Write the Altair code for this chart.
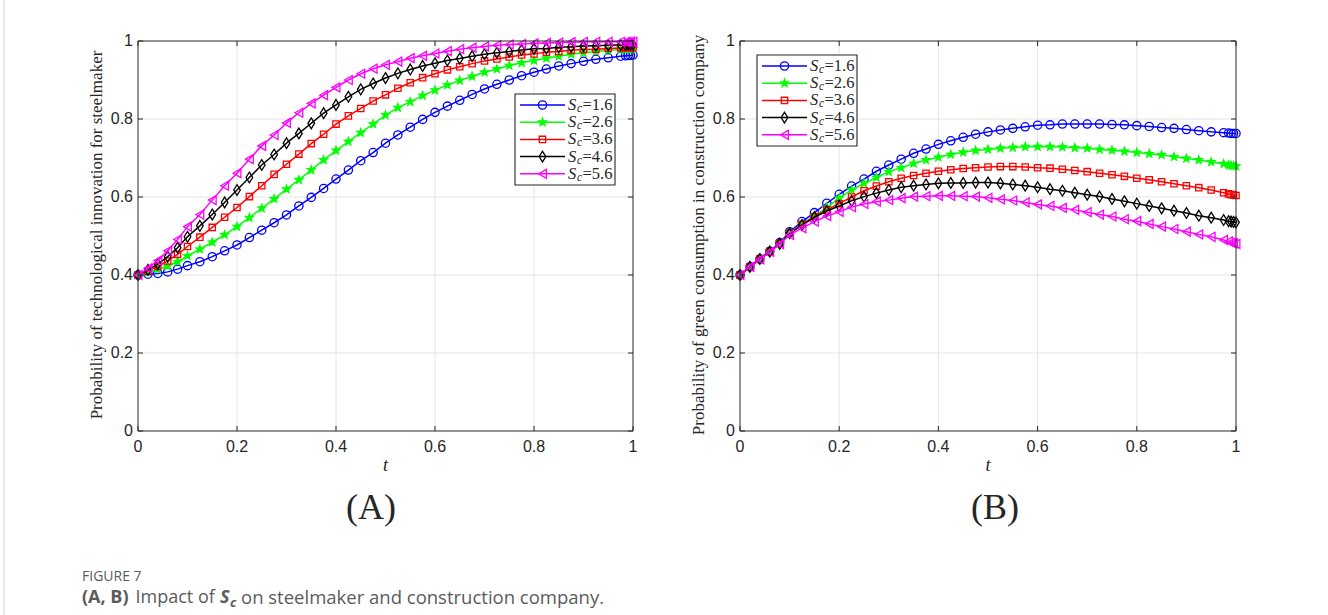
import math
import altair as alt
import pandas as pd

# ---------------- data ----------------
T = [0, 0.02, 0.04, 0.06, 0.08,
     0.1, 0.125, 0.15, 0.175, 0.2, 0.225, 0.25, 0.275, 0.3,
     0.325, 0.35, 0.375, 0.4, 0.425, 0.45, 0.475, 0.5,
     0.525, 0.55, 0.575, 0.6, 0.625, 0.65, 0.675, 0.7,
     0.725, 0.75, 0.775, 0.8, 0.825, 0.85, 0.875, 0.9,
     0.925, 0.95, 0.975, 0.985, 0.99, 0.995, 1.0]

SERIES_NAMES = ["1.6", "2.6", "3.6", "4.6", "5.6"]

# Panel (A): probability of technological innovation for steelmaker
A_16 = [0.400, 0.402, 0.404, 0.408, 0.415, 0.424, 0.434, 0.447, 0.462, 0.477, 0.496, 0.515, 0.534, 0.554,
        0.577, 0.599, 0.622, 0.646, 0.669, 0.693, 0.714, 0.738, 0.759, 0.779, 0.799, 0.817, 0.833, 0.848,
        0.863, 0.877, 0.889, 0.900, 0.911, 0.920, 0.928, 0.936, 0.942, 0.948, 0.953, 0.957, 0.961,
        0.962, 0.963, 0.963, 0.964]
A_26 = [0.400, 0.406, 0.414, 0.423, 0.434, 0.449, 0.466, 0.484, 0.503, 0.524, 0.547, 0.571, 0.595, 0.620,
        0.644, 0.669, 0.695, 0.719, 0.742, 0.765, 0.787, 0.810, 0.829, 0.844, 0.860, 0.874, 0.887, 0.899,
        0.909, 0.920, 0.928, 0.937, 0.944, 0.950, 0.956, 0.961, 0.966, 0.970, 0.973, 0.976, 0.978,
        0.979, 0.979, 0.979, 0.980]
A_36 = [0.400, 0.410, 0.422, 0.436, 0.453, 0.473, 0.497, 0.522, 0.548, 0.573, 0.601, 0.629, 0.658, 0.684,
        0.710, 0.737, 0.761, 0.787, 0.808, 0.827, 0.846, 0.862, 0.879, 0.893, 0.906, 0.916, 0.926, 0.934,
        0.942, 0.949, 0.954, 0.959, 0.964, 0.967, 0.971, 0.973, 0.976, 0.978, 0.979, 0.981, 0.982,
        0.983, 0.983, 0.983, 0.983]
A_46 = [0.400, 0.413, 0.428, 0.447, 0.470, 0.498, 0.526, 0.555, 0.586, 0.618, 0.650, 0.682, 0.709, 0.738,
        0.763, 0.789, 0.815, 0.836, 0.857, 0.876, 0.891, 0.905, 0.917, 0.927, 0.936, 0.943, 0.950, 0.955,
        0.961, 0.966, 0.970, 0.973, 0.977, 0.980, 0.981, 0.984, 0.985, 0.987, 0.988, 0.989, 0.990,
        0.990, 0.991, 0.991, 0.991]
A_56 = [0.400, 0.417, 0.437, 0.462, 0.491, 0.524, 0.555, 0.592, 0.629, 0.661, 0.697, 0.731, 0.759, 0.790,
        0.816, 0.840, 0.861, 0.881, 0.900, 0.916, 0.929, 0.939, 0.947, 0.956, 0.962, 0.968, 0.974, 0.979,
        0.983, 0.986, 0.989, 0.991, 0.992, 0.994, 0.995, 0.996, 0.997, 0.998, 0.998, 0.998, 0.998,
        0.998, 0.998, 0.998, 0.998]

# Panel (B): probability of green consumption in construction company
B_16 = [0.400, 0.421, 0.441, 0.461, 0.483, 0.511, 0.537, 0.560, 0.584, 0.607, 0.628, 0.646, 0.666, 0.682,
        0.697, 0.712, 0.723, 0.735, 0.744, 0.753, 0.761, 0.767, 0.772, 0.776, 0.780, 0.784, 0.785, 0.787,
        0.787, 0.787, 0.787, 0.786, 0.785, 0.783, 0.781, 0.778, 0.776, 0.773, 0.770, 0.767, 0.765,
        0.764, 0.763, 0.763, 0.763]
B_26 = [0.400, 0.421, 0.441, 0.461, 0.482, 0.509, 0.531, 0.551, 0.573, 0.597, 0.618, 0.635, 0.650, 0.665,
        0.675, 0.686, 0.695, 0.702, 0.709, 0.715, 0.719, 0.722, 0.725, 0.727, 0.729, 0.729, 0.729, 0.728,
        0.726, 0.725, 0.722, 0.720, 0.717, 0.714, 0.711, 0.708, 0.703, 0.699, 0.695, 0.690, 0.685,
        0.682, 0.681, 0.680, 0.679]
B_36 = [0.400, 0.421, 0.441, 0.460, 0.481, 0.507, 0.530, 0.550, 0.567, 0.583, 0.600, 0.616, 0.628, 0.639,
        0.648, 0.655, 0.661, 0.666, 0.670, 0.673, 0.675, 0.677, 0.678, 0.678, 0.677, 0.675, 0.674, 0.671,
        0.668, 0.665, 0.661, 0.657, 0.653, 0.648, 0.644, 0.639, 0.634, 0.629, 0.624, 0.618, 0.611,
        0.608, 0.606, 0.605, 0.604]
B_46 = [0.400, 0.421, 0.441, 0.460, 0.480, 0.507, 0.528, 0.548, 0.564, 0.577, 0.590, 0.601, 0.610, 0.618,
        0.625, 0.629, 0.632, 0.635, 0.636, 0.636, 0.637, 0.637, 0.635, 0.632, 0.629, 0.625, 0.620, 0.616,
        0.611, 0.606, 0.601, 0.595, 0.589, 0.583, 0.577, 0.571, 0.565, 0.559, 0.552, 0.547, 0.541,
        0.538, 0.537, 0.536, 0.535]
B_56 = [0.400, 0.421, 0.440, 0.459, 0.479, 0.503, 0.520, 0.537, 0.551, 0.562, 0.574, 0.582, 0.588, 0.592,
        0.597, 0.601, 0.602, 0.603, 0.603, 0.602, 0.601, 0.598, 0.594, 0.591, 0.586, 0.581, 0.577, 0.572,
        0.567, 0.561, 0.555, 0.550, 0.543, 0.538, 0.531, 0.524, 0.518, 0.511, 0.504, 0.498, 0.490,
        0.486, 0.483, 0.481, 0.480]

TICK_VALUES = [0, 0.2, 0.4, 0.6, 0.8, 1]
TICK_LABELS = ["0", "0.2", "0.4", "0.6", "0.8", "1"]
GRID_VALUES = [0.2, 0.4, 0.6, 0.8]

Y_TITLE_A = "Probability of technological innovation for steelmaker"
Y_TITLE_B = "Probability of green consumption in construction company"
X_TITLE = "t"

# ---------------- styling / layout ----------------
COLORS = ["#0000ff", "#00ff00", "#ff0000", "#000000", "#ff00ff"]
_star = []
for k in range(10):
    ang = math.radians(-90 + 36 * k)
    r = 1.0 if k % 2 == 0 else 0.42
    _star.append(f"{r * math.cos(ang):.3f},{r * math.sin(ang):.3f}")
STAR = "M" + "L".join(_star) + "Z"
DIAMOND = "M0,-1L0.62,0L0,1L-0.62,0Z"
SHAPES = ["circle", STAR, "square", DIAMOND, "triangle-left"]
FILLED = [False, True, False, False, False]
SIZES = [68, 140, 40, 115, 80]

AXC = "#262626"
GRIDC = "#e4e4e4"
SERIF = "Liberation Serif"
SANS = "Liberation Sans"
CAP_FONT = "Open Sans"
CAP_COLOR = "#5b5b5b"

Y_TOP, Y_BOT = 41, 431
YS = alt.Scale(domain=[0, 1], range=[Y_BOT, Y_TOP], nice=False, zero=False)


def xscale(x0, x1):
    return alt.Scale(domain=[0, 1], range=[x0, x1], nice=False, zero=False)


def text_layer(s, x, y, size, font=SERIF, color=AXC, align="center", style="normal",
               weight="normal", angle=0):
    kw = dict(font=font, fontSize=size, color=color, align=align, baseline="middle",
              fontStyle=style, fontWeight=weight)
    if angle:
        kw["angle"] = angle
    return alt.Chart(pd.DataFrame({"s": [s]})).mark_text(**kw).encode(
        text="s:N", x=alt.value(x), y=alt.value(y))


def panel(x0, x1, values, ytitle, ytitle_x, tag, tag_x, leg_left, leg_top):
    xs = xscale(x0, x1)
    layers = []
    # grid
    layers.append(alt.Chart(pd.DataFrame({"t": GRID_VALUES})).mark_rule(color=GRIDC, strokeWidth=1).encode(
        x=alt.X("t:Q", scale=xs, axis=None), y=alt.value(Y_TOP), y2=alt.value(Y_BOT)))
    layers.append(alt.Chart(pd.DataFrame({"v": GRID_VALUES})).mark_rule(color=GRIDC, strokeWidth=1).encode(
        y=alt.Y("v:Q", scale=YS, axis=None), x=alt.value(x0), x2=alt.value(x1)))
    # series
    for i, name in enumerate(SERIES_NAMES):
        df = pd.DataFrame({"t": T, "v": values[i]})
        enc = dict(x=alt.X("t:Q", scale=xs, axis=None), y=alt.Y("v:Q", scale=YS, axis=None))
        layers.append(alt.Chart(df).mark_line(color=COLORS[i], strokeWidth=1.5).encode(**enc))
        layers.append(alt.Chart(df).mark_point(shape=SHAPES[i], filled=FILLED[i], size=SIZES[i],
                                               color=COLORS[i], strokeWidth=1.3, opacity=1).encode(**enc))
    # frame
    layers.append(alt.Chart(pd.DataFrame({"a": [0], "b": [1]})).mark_rect(
        filled=False, color=AXC, strokeWidth=1).encode(
        x=alt.X("a:Q", scale=xs, axis=None), x2="b:Q",
        y=alt.Y("a:Q", scale=YS, axis=None), y2="b:Q"))
    # inward ticks on all four sides
    tk = pd.DataFrame({"t": TICK_VALUES})
    for ya, yb in [(Y_BOT, Y_BOT - 5), (Y_TOP, Y_TOP + 5)]:
        layers.append(alt.Chart(tk).mark_rule(color=AXC, strokeWidth=1).encode(
            x=alt.X("t:Q", scale=xs, axis=None), y=alt.value(ya), y2=alt.value(yb)))
    for xa, xb in [(x0, x0 + 5), (x1, x1 - 5)]:
        layers.append(alt.Chart(tk).mark_rule(color=AXC, strokeWidth=1).encode(
            y=alt.Y("t:Q", scale=YS, axis=None), x=alt.value(xa), x2=alt.value(xb)))
    # tick labels
    lab = pd.DataFrame({"t": TICK_VALUES, "lab": TICK_LABELS})
    layers.append(alt.Chart(lab).mark_text(font=SANS, fontSize=16, color=AXC, baseline="middle").encode(
        x=alt.X("t:Q", scale=xs, axis=None), y=alt.value(447), text="lab:N"))
    layers.append(alt.Chart(lab).mark_text(font=SANS, fontSize=16, color=AXC, align="right",
                                           baseline="middle").encode(
        y=alt.Y("t:Q", scale=YS, axis=None), x=alt.value(x0 - 5), text="lab:N"))
    # axis titles
    layers.append(text_layer(X_TITLE, (x0 + x1) / 2, 466, 18, style="italic"))
    layers.append(text_layer(ytitle, ytitle_x, (Y_TOP + Y_BOT) / 2 - 1, 17, angle=270))
    # panel tag
    layers.append(text_layer(tag, tag_x, 508, 36))
    # legend
    bw, bh = 100, 91
    layers.append(alt.Chart(pd.DataFrame({"a": [0]})).mark_rect(
        fill="white", stroke=AXC, strokeWidth=1.1).encode(
        x=alt.value(leg_left), x2=alt.value(leg_left + bw),
        y=alt.value(leg_top), y2=alt.value(leg_top + bh)))
    for i, name in enumerate(SERIES_NAMES):
        ry = leg_top + 11 + i * 17.2
        row = pd.DataFrame({"a": [0]})
        layers.append(alt.Chart(row).mark_rule(color=COLORS[i], strokeWidth=1.5).encode(
            x=alt.value(leg_left + 5), x2=alt.value(leg_left + 50), y=alt.value(ry)))
        layers.append(alt.Chart(row).mark_point(shape=SHAPES[i], filled=FILLED[i], size=SIZES[i],
                                                color=COLORS[i], strokeWidth=1.3, opacity=1).encode(
            x=alt.value(leg_left + 27.5), y=alt.value(ry)))
        layers.append(text_layer("S", leg_left + 53, ry, 16.5, align="left", style="italic"))
        layers.append(text_layer("c", leg_left + 62, ry + 4, 11.5, align="left", style="italic"))
        layers.append(text_layer("=" + name, leg_left + 67.5, ry, 16.5, align="left"))
    return layers


layers = []
layers.append(alt.Chart(pd.DataFrame({"a": [0]})).mark_rule(color="#d4d4d4", strokeWidth=1).encode(
    x=alt.value(4), y=alt.value(0), y2=alt.value(615)))
layers += panel(138, 633, [A_16, A_26, A_36, A_46, A_56], Y_TITLE_A, 97, "(A)", 371, 515, 94)
layers += panel(740, 1236, [B_16, B_26, B_36, B_46, B_56], Y_TITLE_B, 699, "(B)", 995, 757, 55)

# caption
layers.append(text_layer("FIGURE 7", 82, 577, 14, font=CAP_FONT, color=CAP_COLOR, align="left"))
layers.append(text_layer("(A, B)", 82, 598, 18, font=CAP_FONT, color=CAP_COLOR, align="left", weight="bold"))
layers.append(text_layer("Impact of", 135.5, 598, 18, font=CAP_FONT, color=CAP_COLOR, align="left"))
layers.append(text_layer("S", 220, 598, 18, font=CAP_FONT, color=CAP_COLOR, align="left",
                         weight="bold", style="italic"))
layers.append(text_layer("c", 230, 603, 13, font=CAP_FONT, color=CAP_COLOR, align="left",
                         weight="bold", style="italic"))
layers.append(text_layer("on steelmaker and construction company.", 241, 598, 18.5, font=CAP_FONT,
                         color=CAP_COLOR, align="left"))

chart = alt.layer(*layers).resolve_scale(x="independent", y="independent").properties(
    width=1328, height=615, autosize=alt.AutoSizeParams(type="none"), padding=0,
    background="white").configure_view(stroke=None)

chart.save("out.html", embed_options={"renderer": "svg", "actions": False})
